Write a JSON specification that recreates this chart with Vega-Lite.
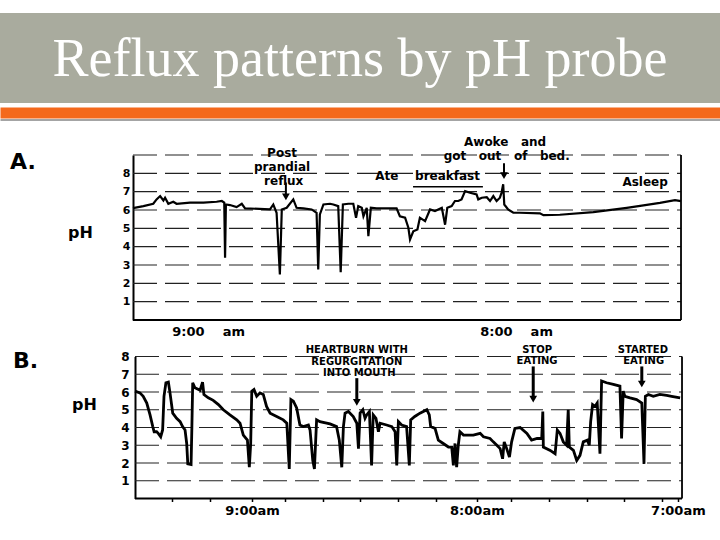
{
  "$schema": "https://vega.github.io/schema/vega-lite/v6.json",
  "padding": {"top": 13, "left": 0, "right": 0, "bottom": 0},
  "columns": 1,
  "spacing": 6.5,
  "config": {
    "view": {"stroke": null},
    "font": "DejaVu Sans",
    "axis": {
      "labelColor": "#000",
      "labelFont": "DejaVu Sans",
      "labelFontWeight": "bold",
      "titleColor": "#000",
      "titleFont": "DejaVu Sans",
      "domainColor": "#000",
      "labelOverlap": false,
      "labelFlush": false
    }
  },
  "datasets": {
    "traceA": [
      {"t": 0, "ph": 6.1}, {"t": 0.38, "ph": 6.21}, {"t": 0.74, "ph": 6.34}, {"t": 0.86, "ph": 6.58}, {"t": 0.99, "ph": 6.76},
      {"t": 1.11, "ph": 6.52}, {"t": 1.17, "ph": 6.67}, {"t": 1.29, "ph": 6.34}, {"t": 1.47, "ph": 6.45}, {"t": 1.59, "ph": 6.34},
      {"t": 2.08, "ph": 6.4}, {"t": 2.57, "ph": 6.4}, {"t": 3.05, "ph": 6.45}, {"t": 3.24, "ph": 6.49}, {"t": 3.33, "ph": 6.4},
      {"t": 3.36, "ph": 3.39}, {"t": 3.39, "ph": 6.3}, {"t": 3.54, "ph": 6.27}, {"t": 3.78, "ph": 6.16}, {"t": 3.97, "ph": 6.34},
      {"t": 4.09, "ph": 6.09}, {"t": 5.0, "ph": 6.04}, {"t": 5.12, "ph": 6.3}, {"t": 5.24, "ph": 5.85}, {"t": 5.36, "ph": 2.48},
      {"t": 5.43, "ph": 6.03}, {"t": 5.61, "ph": 6.12}, {"t": 5.85, "ph": 6.58}, {"t": 5.97, "ph": 6.12}, {"t": 6.22, "ph": 6.09},
      {"t": 6.52, "ph": 6.03}, {"t": 6.7, "ph": 5.85}, {"t": 6.76, "ph": 2.75}, {"t": 6.82, "ph": 5.76}, {"t": 6.95, "ph": 6.3},
      {"t": 7.19, "ph": 6.34}, {"t": 7.31, "ph": 6.3}, {"t": 7.49, "ph": 6.21}, {"t": 7.58, "ph": 2.6}, {"t": 7.66, "ph": 6.3},
      {"t": 7.86, "ph": 6.34}, {"t": 8.04, "ph": 6.34}, {"t": 8.14, "ph": 5.58}, {"t": 8.22, "ph": 6.21}, {"t": 8.35, "ph": 6.12},
      {"t": 8.41, "ph": 5.66}, {"t": 8.53, "ph": 6.12}, {"t": 8.59, "ph": 4.57}, {"t": 8.68, "ph": 6.12}, {"t": 8.89, "ph": 6.09},
      {"t": 9.62, "ph": 6.09}, {"t": 9.74, "ph": 5.66}, {"t": 9.93, "ph": 5.58}, {"t": 10.05, "ph": 5.03}, {"t": 10.11, "ph": 4.39},
      {"t": 10.23, "ph": 4.84}, {"t": 10.38, "ph": 4.94}, {"t": 10.47, "ph": 5.58}, {"t": 10.66, "ph": 5.39}, {"t": 10.84, "ph": 6.03},
      {"t": 11.02, "ph": 5.94}, {"t": 11.14, "ph": 6.03}, {"t": 11.27, "ph": 6.12}, {"t": 11.39, "ph": 5.2}, {"t": 11.47, "ph": 6.12},
      {"t": 11.63, "ph": 6.21}, {"t": 11.75, "ph": 6.49}, {"t": 11.87, "ph": 6.49}, {"t": 11.99, "ph": 6.58}, {"t": 12.12, "ph": 7.03},
      {"t": 12.3, "ph": 6.94}, {"t": 12.54, "ph": 6.85}, {"t": 12.6, "ph": 6.58}, {"t": 12.73, "ph": 6.67}, {"t": 12.91, "ph": 6.7},
      {"t": 13.03, "ph": 6.49}, {"t": 13.15, "ph": 6.76}, {"t": 13.27, "ph": 6.49}, {"t": 13.39, "ph": 6.67}, {"t": 13.45, "ph": 6.94},
      {"t": 13.51, "ph": 7.4}, {"t": 13.55, "ph": 6.3}, {"t": 13.69, "ph": 6.03}, {"t": 13.88, "ph": 5.85}, {"t": 14.12, "ph": 5.85},
      {"t": 14.85, "ph": 5.82}, {"t": 14.98, "ph": 5.72}, {"t": 15.58, "ph": 5.74}, {"t": 16.8, "ph": 5.88}, {"t": 18.02, "ph": 6.12},
      {"t": 18.63, "ph": 6.25}, {"t": 19.23, "ph": 6.39}, {"t": 19.78, "ph": 6.54}, {"t": 20, "ph": 6.48}
    ],
    "gridA": [
      {"t": 0, "t2": 20, "ph": 1}, {"t": 0, "t2": 20, "ph": 2}, {"t": 0, "t2": 20, "ph": 3},
      {"t": 0, "t2": 20, "ph": 4}, {"t": 0, "t2": 20, "ph": 5}, {"t": 0, "t2": 20, "ph": 6},
      {"t": 0, "t2": 20, "ph": 7}, {"t": 0, "t2": 20, "ph": 8}, {"t": 0, "t2": 20, "ph": 9}
    ],
    "frameA": [
      {"t": 0, "ph": 0, "t2": 20, "ph2": 0},
      {"t": 20, "ph": 0, "t2": 20, "ph2": 9}
    ],
    "notesA": [
      {"t": 5.44, "ph": 9.09, "label": "Post"},
      {"t": 5.44, "ph": 8.33, "label": "prandial"},
      {"t": 5.5, "ph": 7.56, "label": "reflux"},
      {"t": 13.58, "ph": 9.71, "label": "Awoke\u00a0\u00a0\u00a0and"},
      {"t": 13.64, "ph": 8.95, "label": "got\u00a0\u00a0\u00a0out\u00a0\u00a0\u00a0of\u00a0\u00a0\u00a0bed."},
      {"t": 10.75, "ph": 7.85, "label": "Ate\u00a0\u00a0\u00a0\u00a0breakfast"},
      {"t": 18.69, "ph": 7.54, "label": "Asleep"}
    ],
    "arrowsA": [
      {"t": 5.58, "ph": 7.5, "ph2": 6.7},
      {"t": 13.54, "ph": 8.55, "ph2": 7.9}
    ],
    "headsA": [
      {"t": 5.58, "ph": 6.72},
      {"t": 13.54, "ph": 7.88}
    ],
    "underlineA": [
      {"t": 10.22, "t2": 12.77, "ph": 7.27}
    ],
    "letterA": [
      {"t": -4.49, "ph": 8.6, "label": "A."}
    ],
    "traceB": [
      {"t": 0, "ph": 6.05}, {"t": 0.18, "ph": 5.95}, {"t": 0.3, "ph": 5.76}, {"t": 0.43, "ph": 5.38}, {"t": 0.55, "ph": 4.71},
      {"t": 0.65, "ph": 4.05}, {"t": 0.7, "ph": 3.76}, {"t": 0.79, "ph": 3.76}, {"t": 0.85, "ph": 3.67}, {"t": 0.94, "ph": 3.48},
      {"t": 1.01, "ph": 3.86}, {"t": 1.06, "ph": 5.76}, {"t": 1.13, "ph": 6.52}, {"t": 1.22, "ph": 6.56}, {"t": 1.28, "ph": 5.95},
      {"t": 1.38, "ph": 4.81}, {"t": 1.52, "ph": 4.52}, {"t": 1.65, "ph": 4.33}, {"t": 1.74, "ph": 4.05}, {"t": 1.83, "ph": 3.86},
      {"t": 1.89, "ph": 3.1}, {"t": 1.93, "ph": 1.95}, {"t": 2.05, "ph": 1.91}, {"t": 2.08, "ph": 4.05}, {"t": 2.11, "ph": 6.52},
      {"t": 2.19, "ph": 6.24}, {"t": 2.38, "ph": 6.1}, {"t": 2.47, "ph": 6.56}, {"t": 2.52, "ph": 5.86}, {"t": 2.68, "ph": 5.67},
      {"t": 2.86, "ph": 5.53}, {"t": 3.05, "ph": 5.29}, {"t": 3.23, "ph": 5.0}, {"t": 3.47, "ph": 4.71}, {"t": 3.72, "ph": 4.43},
      {"t": 3.84, "ph": 4.24}, {"t": 3.96, "ph": 3.57}, {"t": 4.11, "ph": 3.29}, {"t": 4.18, "ph": 1.76}, {"t": 4.23, "ph": 3.1},
      {"t": 4.27, "ph": 6.05}, {"t": 4.35, "ph": 6.14}, {"t": 4.45, "ph": 5.76}, {"t": 4.57, "ph": 5.95}, {"t": 4.69, "ph": 5.86},
      {"t": 4.81, "ph": 5.19}, {"t": 4.94, "ph": 4.81}, {"t": 5.18, "ph": 4.62}, {"t": 5.42, "ph": 4.43}, {"t": 5.55, "ph": 4.24},
      {"t": 5.64, "ph": 1.67}, {"t": 5.7, "ph": 5.57}, {"t": 5.79, "ph": 5.48}, {"t": 5.91, "ph": 5.1}, {"t": 6.03, "ph": 4.14},
      {"t": 6.15, "ph": 4.05}, {"t": 6.34, "ph": 4.14}, {"t": 6.4, "ph": 3.86}, {"t": 6.5, "ph": 2.14}, {"t": 6.56, "ph": 1.67},
      {"t": 6.64, "ph": 4.43}, {"t": 6.76, "ph": 4.33}, {"t": 7.13, "ph": 4.2}, {"t": 7.37, "ph": 4.05}, {"t": 7.47, "ph": 3.29},
      {"t": 7.56, "ph": 1.76}, {"t": 7.62, "ph": 4.05}, {"t": 7.68, "ph": 4.81}, {"t": 7.8, "ph": 4.9}, {"t": 7.98, "ph": 4.62},
      {"t": 8.11, "ph": 4.24}, {"t": 8.17, "ph": 2.81}, {"t": 8.23, "ph": 4.81}, {"t": 8.33, "ph": 5.0}, {"t": 8.41, "ph": 4.52},
      {"t": 8.47, "ph": 4.71}, {"t": 8.57, "ph": 4.9}, {"t": 8.65, "ph": 1.86}, {"t": 8.71, "ph": 4.71}, {"t": 8.81, "ph": 4.52},
      {"t": 8.9, "ph": 3.76}, {"t": 8.96, "ph": 4.24}, {"t": 9.2, "ph": 4.14}, {"t": 9.39, "ph": 4.05}, {"t": 9.51, "ph": 3.76},
      {"t": 9.57, "ph": 1.86}, {"t": 9.63, "ph": 4.33}, {"t": 9.75, "ph": 4.14}, {"t": 9.93, "ph": 4.05}, {"t": 10.03, "ph": 1.86},
      {"t": 10.08, "ph": 4.43}, {"t": 10.23, "ph": 4.62}, {"t": 10.42, "ph": 4.81}, {"t": 10.67, "ph": 5.0}, {"t": 10.76, "ph": 4.71},
      {"t": 10.81, "ph": 4.05}, {"t": 10.97, "ph": 3.95}, {"t": 11.09, "ph": 3.29}, {"t": 11.27, "ph": 3.1}, {"t": 11.46, "ph": 2.9},
      {"t": 11.58, "ph": 2.9}, {"t": 11.64, "ph": 1.86}, {"t": 11.7, "ph": 3.1}, {"t": 11.76, "ph": 1.76}, {"t": 11.82, "ph": 3.0},
      {"t": 11.88, "ph": 3.76}, {"t": 12.01, "ph": 3.57}, {"t": 12.37, "ph": 3.57}, {"t": 12.62, "ph": 3.67}, {"t": 12.74, "ph": 3.48},
      {"t": 12.98, "ph": 3.38}, {"t": 13.1, "ph": 3.19}, {"t": 13.23, "ph": 3.0}, {"t": 13.35, "ph": 2.81}, {"t": 13.44, "ph": 2.24},
      {"t": 13.5, "ph": 3.19}, {"t": 13.59, "ph": 2.81}, {"t": 13.69, "ph": 2.33}, {"t": 13.77, "ph": 3.19}, {"t": 13.89, "ph": 3.95},
      {"t": 14.08, "ph": 4.0}, {"t": 14.33, "ph": 3.67}, {"t": 14.5, "ph": 3.29}, {"t": 14.7, "ph": 3.38}, {"t": 14.87, "ph": 3.38},
      {"t": 14.91, "ph": 4.9}, {"t": 14.93, "ph": 2.9}, {"t": 15.18, "ph": 2.71}, {"t": 15.36, "ph": 2.52}, {"t": 15.44, "ph": 3.86},
      {"t": 15.54, "ph": 3.67}, {"t": 15.66, "ph": 3.19}, {"t": 15.78, "ph": 3.0}, {"t": 15.84, "ph": 5.0}, {"t": 15.88, "ph": 2.9},
      {"t": 16.03, "ph": 2.71}, {"t": 16.15, "ph": 2.14}, {"t": 16.27, "ph": 2.43}, {"t": 16.39, "ph": 3.19}, {"t": 16.54, "ph": 3.29},
      {"t": 16.61, "ph": 3.0}, {"t": 16.66, "ph": 4.33}, {"t": 16.73, "ph": 5.29}, {"t": 16.82, "ph": 5.19}, {"t": 16.9, "ph": 5.38},
      {"t": 17.0, "ph": 2.52}, {"t": 17.06, "ph": 6.62}, {"t": 17.24, "ph": 6.52}, {"t": 17.49, "ph": 6.43}, {"t": 17.73, "ph": 6.33},
      {"t": 17.79, "ph": 3.38}, {"t": 17.85, "ph": 6.05}, {"t": 17.91, "ph": 5.76}, {"t": 18.1, "ph": 5.67}, {"t": 18.34, "ph": 5.57},
      {"t": 18.53, "ph": 5.38}, {"t": 18.61, "ph": 1.95}, {"t": 18.66, "ph": 5.76}, {"t": 18.77, "ph": 5.86}, {"t": 18.95, "ph": 5.76},
      {"t": 19.19, "ph": 5.86}, {"t": 19.44, "ph": 5.81}, {"t": 19.62, "ph": 5.76}, {"t": 19.93, "ph": 5.67}
    ],
    "gridB": [
      {"t": 0, "t2": 20, "ph": 1}, {"t": 0, "t2": 20, "ph": 2}, {"t": 0, "t2": 20, "ph": 3},
      {"t": 0, "t2": 20, "ph": 4}, {"t": 0, "t2": 20, "ph": 5}, {"t": 0, "t2": 20, "ph": 6},
      {"t": 0, "t2": 20, "ph": 7}, {"t": 0, "t2": 20, "ph": 8}
    ],
    "frameB": [
      {"t": 0, "ph": 0, "t2": 20, "ph2": 0},
      {"t": 20, "ph": 0, "t2": 20, "ph2": 8}
    ],
    "notesB": [
      {"t": 8.11, "ph": 8.35, "label": "HEARTBURN WITH"},
      {"t": 8.11, "ph": 7.7, "label": "REGURGITATION"},
      {"t": 8.2, "ph": 7.05, "label": "INTO MOUTH"},
      {"t": 14.7, "ph": 8.38, "label": "STOP"},
      {"t": 14.7, "ph": 7.76, "label": "EATING"},
      {"t": 18.57, "ph": 8.38, "label": "STARTED"},
      {"t": 18.6, "ph": 7.76, "label": "EATING"}
    ],
    "arrowsB": [
      {"t": 8.11, "ph": 6.78, "ph2": 5.5},
      {"t": 14.56, "ph": 7.44, "ph2": 5.7},
      {"t": 18.53, "ph": 7.44, "ph2": 6.5}
    ],
    "headsB": [
      {"t": 8.11, "ph": 5.42},
      {"t": 14.56, "ph": 5.6},
      {"t": 18.53, "ph": 6.45}
    ],
    "letterB": [
      {"t": -4.46, "ph": 7.76, "label": "B."}
    ]
  },
  "concat": [
    {
      "width": 720,
      "height": 90,
      "view": {"fill": "#a9ab9e", "stroke": null},
      "data": {"values": [{"title": "Reflux patterns by pH probe"}]},
      "mark": {"type": "text", "font": "Liberation Serif", "fontSize": 54, "color": "#ffffff", "baseline": "alphabetic", "dy": 18},
      "encoding": {
        "x": {"datum": 0.5, "type": "quantitative", "scale": {"domain": [0, 1]},
          "axis": {"orient": "bottom", "offset": 9.5, "domainColor": "#f4691c", "domainWidth": 11, "ticks": false, "labels": false, "grid": false, "title": null}},
        "text": {"field": "title"}
      }
    },
    {
      "width": 720,
      "height": 9,
      "data": {"values": [{}]},
      "mark": {"type": "rule", "strokeOpacity": 0},
      "encoding": {
        "x": {"datum": 0, "type": "quantitative", "scale": {"domain": [0, 1]},
          "axis": {"orient": "top", "domainColor": "#4a4a4a", "domainWidth": 1, "ticks": false, "labels": false, "grid": false, "title": null}}
      }
    },
    {
      "width": 720,
      "height": 165,
      "encoding": {
        "x": {"field": "t", "type": "quantitative", "scale": {"domain": [-4.854, 21.423], "nice": false, "zero": false},
          "axis": {"values": [2.74, 13.98], "labelExpr": "datum.value < 8 ? '9:00\u00a0\u00a0\u00a0\u00a0am' : '8:00\u00a0\u00a0\u00a0\u00a0am'",
            "grid": false, "ticks": false, "domain": false, "labelFontSize": 13, "labelPadding": 5, "title": null}},
        "y": {"field": "ph", "type": "quantitative", "scale": {"domain": [0, 9], "nice": false, "zero": false},
          "axis": {"offset": -133, "values": [1, 2, 3, 4, 5, 6, 7, 8], "grid": false, "ticks": false,
            "domainWidth": 2, "labelFontSize": 11, "labelPadding": 3,
            "title": "pH", "titleAngle": 0, "titleFontSize": 16, "titleFontWeight": "bold",
            "titleX": -53, "titleY": 77, "titleAlign": "center", "titleBaseline": "middle"}}
      },
      "layer": [
        {"data": {"name": "gridA"}, "mark": {"type": "rule", "color": "#222222", "strokeWidth": 1.2, "strokeDash": [24, 8]},
          "encoding": {"x2": {"field": "t2"}}},
        {"data": {"name": "frameA"}, "mark": {"type": "rule", "color": "#000000", "strokeWidth": 1.8},
          "encoding": {"x2": {"field": "t2"}, "y2": {"field": "ph2"}}},
        {"data": {"name": "traceA"}, "mark": {"type": "line", "color": "#000000", "strokeWidth": 2.2}},
        {"data": {"name": "notesA"}, "mark": {"type": "text", "fontWeight": "bold", "fontSize": 12, "color": "#000000"},
          "encoding": {"text": {"field": "label"}}},
        {"data": {"name": "arrowsA"}, "mark": {"type": "rule", "color": "#000000", "strokeWidth": 2},
          "encoding": {"y2": {"field": "ph2"}}},
        {"data": {"name": "headsA"}, "mark": {"type": "point", "shape": "triangle-down", "filled": true, "color": "#000000", "opacity": 1, "size": 60}},
        {"data": {"name": "underlineA"}, "mark": {"type": "rule", "color": "#000000", "strokeWidth": 1.5},
          "encoding": {"x2": {"field": "t2"}}},
        {"data": {"name": "letterA"}, "mark": {"type": "text", "fontWeight": "bold", "fontSize": 22, "align": "left", "color": "#000000"},
          "encoding": {"text": {"field": "label"}}}
      ]
    },
    {
      "width": 720,
      "height": 142,
      "encoding": {
        "x": {"field": "t", "type": "quantitative", "scale": {"domain": [-4.936, 21.389], "nice": false, "zero": false},
          "axis": {"values": [1.34, 2.74, 4.28, 5.48, 6.88, 8.23, 9.61, 10.99, 12.5, 13.75, 15.13, 16.51, 17.89, 19.27, 19.85],
            "labelExpr": "datum.value == 4.28 ? '9:00am' : datum.value == 12.5 ? '8:00am' : datum.value == 19.85 ? '7:00am' : ''",
            "grid": false, "ticks": true, "tickSize": 3, "tickColor": "#000000", "tickWidth": 1.5,
            "domain": false, "labelFontSize": 13, "labelPadding": 3, "title": null}},
        "y": {"field": "ph", "type": "quantitative", "scale": {"domain": [0, 8], "nice": false, "zero": false},
          "axis": {"offset": -135, "values": [1, 2, 3, 4, 5, 6, 7, 8], "grid": false, "ticks": false,
            "domainWidth": 2, "labelFontSize": 12, "labelPadding": 6,
            "title": "pH", "titleAngle": 0, "titleFontSize": 16, "titleFontWeight": "bold",
            "titleX": -51, "titleY": 48, "titleAlign": "center", "titleBaseline": "middle"}}
      },
      "layer": [
        {"data": {"name": "gridB"}, "mark": {"type": "rule", "color": "#222222", "strokeWidth": 1.2, "strokeDash": [24, 8]},
          "encoding": {"x2": {"field": "t2"}}},
        {"data": {"name": "frameB"}, "mark": {"type": "rule", "color": "#000000", "strokeWidth": 1.8},
          "encoding": {"x2": {"field": "t2"}, "y2": {"field": "ph2"}}},
        {"data": {"name": "traceB"}, "mark": {"type": "line", "color": "#000000", "strokeWidth": 2.8}},
        {"data": {"name": "notesB"}, "mark": {"type": "text", "fontWeight": "bold", "fontSize": 10, "color": "#000000"},
          "encoding": {"text": {"field": "label"}}},
        {"data": {"name": "arrowsB"}, "mark": {"type": "rule", "color": "#000000", "strokeWidth": 3},
          "encoding": {"y2": {"field": "ph2"}}},
        {"data": {"name": "headsB"}, "mark": {"type": "point", "shape": "triangle-down", "filled": true, "color": "#000000", "opacity": 1, "size": 60}},
        {"data": {"name": "letterB"}, "mark": {"type": "text", "fontWeight": "bold", "fontSize": 22, "align": "left", "color": "#000000"},
          "encoding": {"text": {"field": "label"}}}
      ]
    }
  ]
}
